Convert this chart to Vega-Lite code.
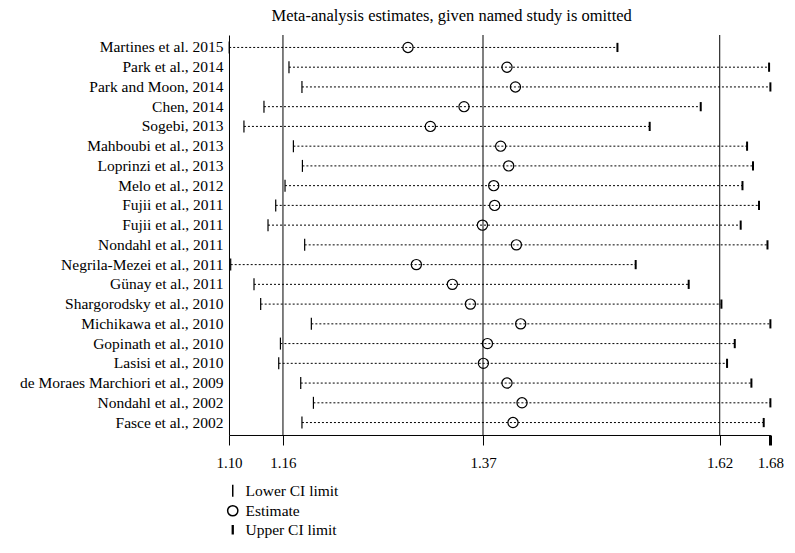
{
  "$schema": "https://vega.github.io/schema/vega-lite/v6.json",
  "width": 541.4,
  "height": 400,
  "padding": {"left": 19, "top": 8, "right": 5, "bottom": 5},
  "background": "white",
  "title": {"text": "Meta-analysis estimates, given named study is omitted", "font": "Liberation Serif", "fontSize": 16.5, "fontWeight": "normal", "anchor": "middle", "dx": -48, "offset": 10, "color": "black"},
  "datasets": {
    "studies": [
      {"study": "Martines et al. 2015", "lower": 1.1010, "estimate": 1.2912, "upper": 1.5140},
      {"study": "Park et al., 2014", "lower": 1.1646, "estimate": 1.3965, "upper": 1.6753},
      {"study": "Park and Moon, 2014", "lower": 1.1784, "estimate": 1.4055, "upper": 1.6767},
      {"study": "Chen, 2014", "lower": 1.1380, "estimate": 1.3508, "upper": 1.6026},
      {"study": "Sogebi, 2013", "lower": 1.1167, "estimate": 1.3150, "upper": 1.5483},
      {"study": "Mahboubi et al., 2013", "lower": 1.1693, "estimate": 1.3898, "upper": 1.6519},
      {"study": "Loprinzi et al., 2013", "lower": 1.1789, "estimate": 1.3983, "upper": 1.6582},
      {"study": "Melo et al., 2012", "lower": 1.1604, "estimate": 1.3824, "upper": 1.6470},
      {"study": "Fujii et al., 2011", "lower": 1.1505, "estimate": 1.3834, "upper": 1.6646},
      {"study": "Fujii et al., 2011 ", "lower": 1.1423, "estimate": 1.3704, "upper": 1.6451},
      {"study": "Nondahl et al., 2011", "lower": 1.1813, "estimate": 1.4065, "upper": 1.6736},
      {"study": "Negrila-Mezei et al., 2011", "lower": 1.1026, "estimate": 1.3001, "upper": 1.5334},
      {"study": "Günay et al., 2011", "lower": 1.1274, "estimate": 1.3384, "upper": 1.5898},
      {"study": "Shargorodsky et al., 2010", "lower": 1.1345, "estimate": 1.3576, "upper": 1.6246},
      {"study": "Michikawa et al., 2010", "lower": 1.1884, "estimate": 1.4111, "upper": 1.6767},
      {"study": "Gopinath et al., 2010", "lower": 1.1555, "estimate": 1.3757, "upper": 1.6388},
      {"study": "Lasisi et al., 2010", "lower": 1.1537, "estimate": 1.3714, "upper": 1.6306},
      {"study": "de Moraes Marchiori et al., 2009", "lower": 1.1771, "estimate": 1.3965, "upper": 1.6565},
      {"study": "Nondahl et al., 2002", "lower": 1.1906, "estimate": 1.4125, "upper": 1.6767},
      {"study": "Fasce et al., 2002", "lower": 1.1784, "estimate": 1.4029, "upper": 1.6696}
    ],
    "overall": [
      {"value": 1.1582},
      {"value": 1.371},
      {"value": 1.6228}
    ]
  },
  "layer": [
    {
      "data": {"name": "overall"},
      "mark": {"type": "rule", "color": "black", "strokeWidth": 1},
      "encoding": {
        "x": {
          "field": "value",
          "type": "quantitative",
          "scale": {"domain": [1.1008, 1.6767], "nice": false, "zero": false},
          "axis": {
            "values": [1.1008, 1.1582, 1.371, 1.6228, 1.6767],
            "format": ".2f",
            "title": null,
            "grid": false,
            "tickSize": 10,
            "tickColor": "black",
            "tickWidth": {"condition": {"test": "datum.value > 1.67", "value": 3}, "value": 1},
            "domainColor": "black",
            "domainWidth": 1,
            "labelColor": "black",
            "labelFont": "Liberation Serif",
            "labelFontSize": 15,
            "labelPadding": 11,
            "labelFlush": false,
            "labelOverlap": false
          }
        }
      }
    },
    {
      "data": {"name": "studies"},
      "mark": {"type": "rule", "color": "black", "strokeWidth": 1, "strokeDash": [2, 2]},
      "encoding": {
        "y": {
          "field": "study",
          "type": "nominal",
          "sort": null,
          "scale": {"paddingInner": 0, "paddingOuter": 0.13},
          "axis": {
            "title": null,
            "grid": false,
            "ticks": false,
            "domainColor": "black",
            "domainWidth": 1,
            "labelColor": "black",
            "labelFont": "Liberation Serif",
            "labelFontSize": 15.5,
            "labelPadding": 6,
            "labelLimit": 400
          }
        },
        "x": {"field": "lower", "type": "quantitative"},
        "x2": {"field": "upper"}
      }
    },
    {
      "data": {"name": "studies"},
      "transform": [{"fold": ["lower", "estimate", "upper"], "as": ["kind", "value"]}],
      "mark": {"type": "point", "filled": false, "color": "black", "opacity": 1, "strokeWidth": 1.2},
      "encoding": {
        "y": {"field": "study", "type": "nominal", "sort": null},
        "x": {"field": "value", "type": "quantitative"},
        "shape": {
          "field": "kind",
          "type": "nominal",
          "scale": {"domain": ["lower", "estimate", "upper"], "range": ["M0,-1L0,1", "circle", "M-0.1,-1H0.1V1H-0.1Z"]},
          "legend": {
            "orient": "none",
            "legendX": -4,
            "legendY": 448,
            "title": null,
            "labelFont": "Liberation Serif",
            "labelFontSize": 15.5,
            "labelColor": "black",
            "labelOffset": 5,
            "rowPadding": 2,
            "labelExpr": "datum.label == 'lower' ? 'Lower CI limit' : datum.label == 'estimate' ? 'Estimate' : 'Upper CI limit'"
          }
        },
        "size": {"field": "kind", "type": "nominal", "scale": {"domain": ["lower", "estimate", "upper"], "range": [144, 64, 180]}}
      }
    }
  ],
  "config": {
    "view": {"stroke": null}
  }
}
